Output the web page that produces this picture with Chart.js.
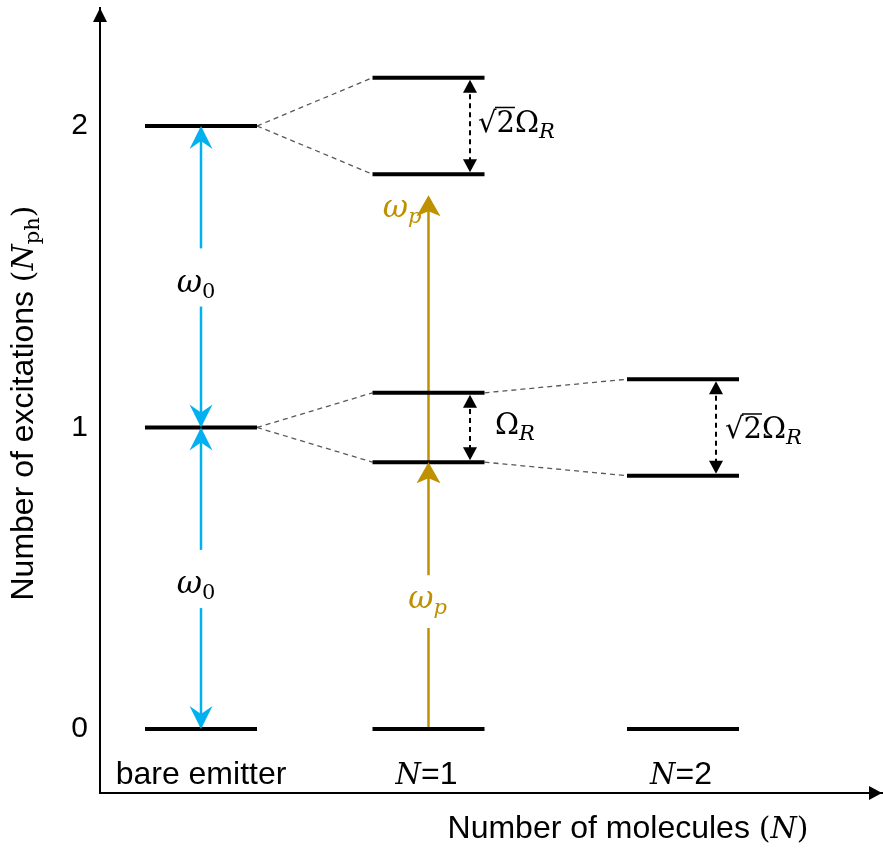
<!DOCTYPE html>
<html>
<head>
<meta charset="utf-8">
<script src="https://cdn.jsdelivr.net/npm/chart.js@4/dist/chart.umd.min.js"></script>
<style>
  html, body { margin: 0; padding: 0; background: #fff; }
  #wrap { width: 883px; height: 848px; }
</style>
</head>
<body>
<div id="wrap"><canvas id="diagram" width="883" height="848"></canvas></div>
<script>
// Energy levels (number of excitations) for each system
const categories = ['bare emitter', 'N=1', 'N=2'];
const excitationTicks = [0, 1, 2];
const bareLevels = [0, 1, 2];
const n1Levels = [0, 0.885, 1.115, 1.84, 2.16];
const n2Levels = [0, 0.84, 1.16];

// Transitions drawn as arrows (from -> to, in excitations)
const omega0Steps = [[0, 1], [1, 2]];
const omegaPPump = [0, 0.885, 1.77];

// Horizontal layout of the three columns (x-axis units)
const colCenter = [1.01, 3.285, 5.83];
const halfWidth = 0.56;
const splitArrowX = [3.70, 6.16];

const BLUE = '#00B0F0';
const GOLD = '#BF9000';
const SANS = '"Liberation Sans", Arial, sans-serif';
const SERIF = '"DejaVu Serif", "Liberation Serif", serif';

function seg(x0, y0, x1, y1, style) {
  return Object.assign({
    data: [{ x: x0, y: y0 }, { x: x1, y: y1 }],
    showLine: true, pointRadius: 0, borderColor: '#000', borderWidth: 4,
    borderCapStyle: 'butt', fill: false
  }, style || {});
}

const datasets = [];
// level bars
const levelSets = [bareLevels, n1Levels, n2Levels];
levelSets.forEach((levels, i) => {
  levels.forEach(v => datasets.push(seg(colCenter[i] - halfWidth, v, colCenter[i] + halfWidth, v)));
});

// dashed correlation lines between columns
const connector = { borderColor: '#595959', borderWidth: 1.3, borderDash: [5, 4] };
const L = i => colCenter[i] - halfWidth;
const R = i => colCenter[i] + halfWidth;
datasets.push(seg(R(0), bareLevels[1], L(1), n1Levels[1], connector));
datasets.push(seg(R(0), bareLevels[1], L(1), n1Levels[2], connector));
datasets.push(seg(R(0), bareLevels[2], L(1), n1Levels[3], connector));
datasets.push(seg(R(0), bareLevels[2], L(1), n1Levels[4], connector));
datasets.push(seg(R(1), n1Levels[1], L(2), n2Levels[1], connector));
datasets.push(seg(R(1), n1Levels[2], L(2), n2Levels[2], connector));

// omega_0 shafts, split to leave room for their labels
const labelOffset = 0.4975;   // label centre above the lower level
const labelGap = 0.0965;
const blueShaft = { borderColor: BLUE, borderWidth: 2.5 };
omega0Steps.forEach(([a, b]) => {
  const mid = a + labelOffset;
  datasets.push(seg(colCenter[0], a, colCenter[0], mid - labelGap, blueShaft));
  datasets.push(seg(colCenter[0], mid + labelGap, colCenter[0], b, blueShaft));
});

// omega_p pump shaft, split around the lower label
const goldShaft = { borderColor: GOLD, borderWidth: 2.5 };
datasets.push(seg(colCenter[1], omegaPPump[0], colCenter[1], 0.335, goldShaft));
datasets.push(seg(colCenter[1], 0.51, colCenter[1], omegaPPump[2] - 0.03, goldShaft));

// Rabi splitting markers (dashed shafts)
const splitShaft = { borderColor: '#000', borderWidth: 2, borderDash: [5, 4] };
const splits = [
  [splitArrowX[0], n1Levels[3], n1Levels[4]],
  [splitArrowX[0], n1Levels[1], n1Levels[2]],
  [splitArrowX[1], n2Levels[1], n2Levels[2]]
];
splits.forEach(([x, a, b]) => datasets.push(seg(x, a + 0.04, x, b - 0.04, splitShaft)));

function arrowHead(ctx, x, y, dir, len, half, notch, color) {
  // dir: 'up' | 'down' | 'right'  (tip at x,y)
  ctx.save();
  ctx.fillStyle = color;
  ctx.beginPath();
  if (dir === 'right') {
    ctx.moveTo(x, y);
    ctx.lineTo(x - len, y - half);
    ctx.lineTo(x - len + notch, y);
    ctx.lineTo(x - len, y + half);
  } else {
    const s = dir === 'up' ? 1 : -1;
    ctx.moveTo(x, y);
    ctx.lineTo(x - half, y + s * len);
    ctx.lineTo(x, y + s * (len - notch));
    ctx.lineTo(x + half, y + s * len);
  }
  ctx.closePath();
  ctx.fill();
  ctx.restore();
}

function drawRuns(ctx, runs, x, y, align) {
  ctx.save();
  ctx.textBaseline = 'alphabetic';
  ctx.textAlign = 'left';
  let total = 0;
  runs.forEach(r => { ctx.font = r.font; r.w = ctx.measureText(r.t).width + (r.gap || 0); total += r.w; });
  let cx = align === 'center' ? x - total / 2 : align === 'right' ? x - total : x;
  runs.forEach(r => {
    ctx.font = r.font;
    ctx.fillStyle = r.color || '#000';
    ctx.fillText(r.t, cx, y + (r.dy || 0));
    if (r.vinculum) {
      // radical bar over the argument of the square root
      const m = ctx.measureText('√');
      ctx.strokeStyle = r.color || '#000';
      ctx.lineWidth = 1.5;
      const top = y - m.actualBoundingBoxAscent - 0.5;
      ctx.beginPath();
      ctx.moveTo(cx + m.width - 1.5, top);
      ctx.lineTo(cx + r.w, top);
      ctx.stroke();
    }
    cx += r.w;
  });
  ctx.restore();
}

const mathFont = (size, italic) => (italic ? 'italic ' : '') + size + 'px ' + SERIF;
const sansFont = size => size + 'px ' + SANS;

function omegaLabel(sub, color) {
  return [
    { t: 'ω', font: mathFont(31, true), color },
    { t: sub, font: mathFont(21, sub !== '0'), dy: 6, color }
  ];
}
function rabiLabel(withRoot) {
  const runs = [];
  if (withRoot) runs.push({ t: '√2', font: mathFont(29, false), vinculum: true });
  runs.push({ t: 'Ω', font: mathFont(29, false) });
  runs.push({ t: 'R', font: mathFont(21, true), dy: 6 });
  return runs;
}

const diagramPlugin = {
  id: 'levelDiagram',
  afterDatasetsDraw(chart) {
    const ctx = chart.ctx;
    const xs = chart.scales.x, ys = chart.scales.y;
    const px = v => xs.getPixelForValue(v), py = v => ys.getPixelForValue(v);

    // omega_0 arrowheads (double headed)
    omega0Steps.forEach(([a, b]) => {
      arrowHead(ctx, px(colCenter[0]), py(b), 'up', 23, 11.5, 8, BLUE);
      arrowHead(ctx, px(colCenter[0]), py(a), 'down', 23, 11.5, 8, BLUE);
    });
    // omega_p arrowheads
    arrowHead(ctx, px(colCenter[1]), py(omegaPPump[1]), 'up', 21, 12, 5, GOLD);
    arrowHead(ctx, px(colCenter[1]), py(omegaPPump[2]), 'up', 21, 12, 5, GOLD);
    // splitting markers: heads touch the split levels
    splits.forEach(([x, a, b]) => {
      arrowHead(ctx, px(x), py(b) + 2, 'up', 13, 7, 0, '#000');
      arrowHead(ctx, px(x), py(a) - 2, 'down', 13, 7, 0, '#000');
    });

    // transition labels
    omega0Steps.forEach(([a]) => {
      drawRuns(ctx, omegaLabel('0', '#000'), px(colCenter[0]) - 5, py(a + 0.48) + 9, 'center');
    });
    drawRuns(ctx, omegaLabel('p', GOLD), px(colCenter[1]) - 1, py(0.418) + 5, 'center');
    drawRuns(ctx, omegaLabel('p', GOLD), px(colCenter[1]) - 7, py(omegaPPump[2]) + 22, 'right');

    drawRuns(ctx, rabiLabel(true), px(splitArrowX[0]) + 8, py(n1Levels[4] - 0.16) + 6, 'left');
    drawRuns(ctx, rabiLabel(false), px(splitArrowX[0]) + 25, py(1) + 7, 'left');
    drawRuns(ctx, rabiLabel(true), px(splitArrowX[1]) + 9, py(1) + 11, 'left');

    // column names
    drawRuns(ctx, [{ t: categories[0], font: sansFont(32) }], px(colCenter[0]), 784, 'center');
    [1, 2].forEach(i => {
      const [n, rest] = categories[i].split('=');
      drawRuns(ctx, [{ t: n, font: mathFont(29, true) }, { t: '=' + rest, font: sansFont(32) }], px(colCenter[i]) - 2, 784, 'center');
    });
  },
  afterDraw(chart) {
    const ctx = chart.ctx;
    const a = chart.chartArea;
    // axis arrowheads
    arrowHead(ctx, a.left, a.top, 'up', 14, 7, 0, '#000');
    arrowHead(ctx, a.right - 1, a.bottom, 'right', 13, 7, 0, '#000');

    // axis titles
    drawRuns(ctx, [
      { t: 'Number of molecules ', font: sansFont(32) },
      { t: '(', font: mathFont(30, false) },
      { t: 'N', font: mathFont(30, true) },
      { t: ')', font: mathFont(30, false) }
    ], 628, 838, 'center');

    ctx.save();
    ctx.translate(33, 403);
    ctx.rotate(-Math.PI / 2);
    drawRuns(ctx, [
      { t: 'Number of excitations ', font: sansFont(32) },
      { t: '(', font: mathFont(30, false) },
      { t: 'N', font: mathFont(30, true) },
      { t: 'ph', font: mathFont(21, false), dy: 6 },
      { t: ')', font: mathFont(30, false) }
    ], 0, 0, 'center');
    ctx.restore();
  }
};

new Chart(document.getElementById('diagram').getContext('2d'), {
  type: 'scatter',
  data: { datasets },
  options: {
    responsive: false,
    animation: false,
    events: [],
    layout: { padding: { top: 8, left: 0, right: 0, bottom: 0 } },
    plugins: { legend: { display: false }, tooltip: { enabled: false }, title: { display: false } },
    scales: {
      x: {
        type: 'linear', min: 0, max: 7.83,
        grid: { display: false, drawTicks: false },
        border: { display: true, color: '#000', width: 2 },
        ticks: { display: false },
        afterFit(s) { s.height = 55; s.paddingLeft = 0; s.paddingRight = 0; }
      },
      y: {
        type: 'linear', min: -0.2123, max: 2.3913,
        grid: { display: false, drawTicks: false },
        border: { display: true, color: '#000', width: 2 },
        ticks: {
          padding: 12, color: '#000',
          font: { family: SANS, size: 30 },
          callback: v => String(v)
        },
        afterBuildTicks(s) { s.ticks = excitationTicks.map(v => ({ value: v })); },
        afterFit(s) { s.width = 100; s.paddingTop = 0; s.paddingBottom = 0; }
      }
    }
  },
  plugins: [diagramPlugin]
});
</script>
</body>
</html>
